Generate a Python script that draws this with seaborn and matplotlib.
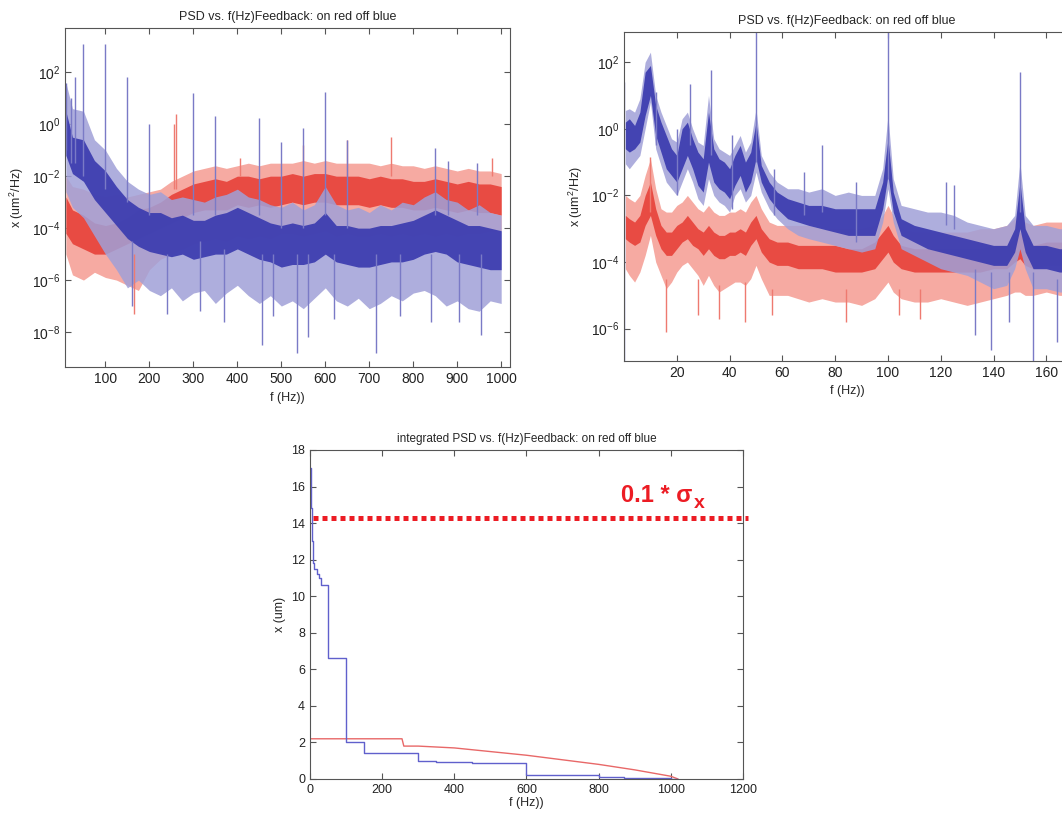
import numpy as np
import pandas as pd
import matplotlib
matplotlib.use("Agg")
import matplotlib.pyplot as plt
from matplotlib.ticker import FixedLocator, NullLocator, LogFormatterMathtext
import seaborn as sns

# ---- top left PSD (0-1000 Hz), values are log10 of um^2/Hz ----
fL = [10, 25, 50, 75, 100, 125, 150, 175, 200, 225, 250, 275, 300, 325, 350, 375, 400, 425, 450, 475,
      500, 525, 550, 575, 600, 625, 650, 675, 700, 725, 750, 775, 800, 825, 850, 875, 900, 925, 950, 975, 1000]
L_blue_hi = [1.6, 0.6, 0.5, -0.6, -1.0, -1.7, -2.2, -2.5, -2.7, -2.6, -2.9, -2.8, -2.9, -3.0, -2.8, -2.7, -2.5, -2.8, -2.9, -3.1,
             -3.2, -3.0, -3.3, -3.1, -2.4, -3.1, -3.3, -3.2, -3.4, -3.1, -3.3, -3.0, -3.1, -2.8, -2.6, -2.9, -3.0, -3.3, -3.1, -3.4, -3.5]
L_blue_chi = [0.5, -0.5, -0.6, -1.4, -1.8, -2.4, -2.9, -3.2, -3.4, -3.4, -3.6, -3.5, -3.7, -3.7, -3.5, -3.4, -3.2, -3.4, -3.6, -3.8,
              -3.9, -3.8, -3.9, -3.8, -3.4, -3.9, -3.9, -4.0, -4.0, -3.9, -3.9, -3.8, -3.7, -3.5, -3.3, -3.5, -3.7, -3.9, -3.9, -4.0, -4.1]
L_blue_clo = [-1.2, -1.9, -2.2, -2.9, -3.4, -3.9, -4.4, -4.7, -4.9, -5.0, -5.1, -5.0, -5.2, -5.1, -5.0, -5.0, -4.8, -5.0, -5.2, -5.3,
              -5.5, -5.4, -5.4, -5.3, -5.0, -5.3, -5.4, -5.5, -5.5, -5.4, -5.3, -5.3, -5.2, -5.0, -4.9, -5.0, -5.3, -5.4, -5.5, -5.6, -5.6]
L_blue_lo = [-2.6, -3.2, -3.6, -4.3, -5.0, -5.6, -6.3, -6.0, -6.4, -6.6, -6.3, -6.8, -6.5, -6.4, -6.9, -6.5, -6.2, -6.6, -6.9, -6.6,
             -7.0, -6.8, -7.1, -6.7, -6.3, -6.8, -7.0, -6.7, -7.1, -6.9, -6.6, -6.8, -6.5, -6.4, -6.6, -7.0, -6.8, -7.1, -7.2, -6.8, -6.9]
L_red_hi = [-2.0, -2.4, -2.5, -2.7, -2.8, -2.7, -2.8, -2.7, -2.6, -2.5, -2.2, -2.0, -1.8, -1.7, -1.6, -1.7, -1.6, -1.5, -1.6, -1.5,
            -1.5, -1.5, -1.4, -1.5, -1.4, -1.5, -1.5, -1.5, -1.5, -1.6, -1.5, -1.6, -1.6, -1.7, -1.6, -1.7, -1.8, -1.7, -1.8, -1.8, -1.9]
L_red_chi = [-2.8, -3.3, -3.5, -3.8, -3.9, -3.8, -3.6, -3.3, -3.2, -3.0, -2.7, -2.5, -2.3, -2.2, -2.1, -2.2, -2.0, -2.0, -2.1, -2.0,
             -2.0, -1.9, -2.0, -1.9, -1.9, -2.0, -2.0, -2.0, -2.1, -2.0, -2.1, -2.1, -2.2, -2.2, -2.1, -2.2, -2.3, -2.2, -2.3, -2.3, -2.4]
L_red_clo = [-4.2, -4.6, -4.8, -5.0, -5.0, -4.8, -4.6, -4.4, -4.2, -4.0, -3.8, -3.6, -3.4, -3.3, -3.3, -3.3, -3.1, -3.2, -3.1, -3.2,
             -3.1, -3.0, -3.1, -3.0, -3.0, -3.1, -3.1, -3.1, -3.2, -3.1, -3.2, -3.2, -3.3, -3.3, -3.2, -3.3, -3.4, -3.3, -3.4, -3.4, -3.5]
L_red_lo = [-5.0, -5.8, -6.0, -5.7, -5.9, -6.0, -6.2, -6.4, -5.6, -5.2, -5.0, -4.8, -4.6, -4.5, -4.4, -4.5, -4.3, -4.4, -4.3, -4.4,
            -4.2, -4.2, -4.3, -4.2, -4.1, -4.3, -4.2, -4.3, -4.3, -4.2, -4.3, -4.2, -4.3, -4.2, -4.3, -4.2, -4.3, -4.2, -4.2, -4.1, -4.1]
# spikes (freq, top, base)
L_blue_spk_f = [10, 22, 30, 50, 100, 150, 200, 300, 350, 450, 500, 550, 600, 650, 850, 880, 945,
                160, 315, 370, 455, 535, 560, 715, 840, 955, 240, 480, 620, 770, 905]
L_blue_spk_top = [1.6, 1.0, 1.8, 3.1, 3.1, 1.8, 0.0, 1.2, 0.3, 0.25, -0.7, -0.15, 1.25, -0.6, -0.9, -1.4, -1.5,
                  -4.5, -4.5, -4.8, -5.0, -5.0, -5.0, -5.0, -5.0, -5.0, -5.0, -5.0, -5.0, -5.0, -5.0]
L_blue_spk_base = [-1.0, -1.5, -1.5, -2.0, -2.5, -3.0, -3.5, -3.5, -3.5, -3.5, -4.0, -4.0, -3.5, -4.0, -3.5, -3.5, -3.5,
                   -7.0, -7.2, -7.6, -8.5, -8.8, -8.2, -8.8, -7.6, -8.1, -7.3, -7.4, -7.5, -7.4, -7.6]
L_red_spk_f = [255, 260, 405, 550, 650, 750, 980, 165]
L_red_spk_top = [0.0, 0.4, -1.3, -0.8, -0.6, -0.5, -1.3, -5.0]
L_red_spk_base = [-2.5, -2.5, -2.0, -2.0, -2.0, -2.0, -2.0, -7.3]

# ---- top right PSD (0-170 Hz) ----
fR = [0.5, 2, 4, 6, 8, 10, 12, 14, 16, 18, 20, 22, 24, 26, 28, 30, 32, 34, 36, 38, 40, 42, 44, 46, 48, 50, 52, 55,
      58, 62, 66, 70, 75, 80, 85, 90, 95, 98, 100, 102, 105, 110, 115, 120, 125, 130, 135, 140, 145, 148, 150, 152, 155, 160, 165, 169]
R_blue_hi = [0.55, 0.6, 0.5, 0.9, 2.0, 2.3, 1.0, 0.5, 0.1, -0.3, -0.4, 0.3, 0.5, 0.0, -0.4, -0.5, 1.0, -0.3, -0.6, -0.7, -0.8, -0.5,
             -0.2, -0.7, -0.4, 0.6, -0.8, -1.3, -1.6, -1.8, -1.8, -1.9, -1.8, -2.0, -1.9, -2.0, -2.0, -1.2, 0.4, -1.5, -2.3, -2.4,
             -2.5, -2.5, -2.6, -2.8, -2.9, -3.0, -2.9, -2.6, -1.0, -2.6, -2.9, -2.9, -3.0, -3.0]
R_blue_chi = [0.2, 0.3, 0.1, 0.5, 1.7, 1.9, 0.7, 0.2, -0.2, -0.6, -0.8, 0.0, 0.2, -0.3, -0.7, -0.9, 0.5, -0.6, -0.9, -1.0, -1.2, -0.8,
              -0.5, -1.0, -0.7, 0.2, -1.1, -1.6, -1.9, -2.1, -2.2, -2.3, -2.3, -2.4, -2.4, -2.4, -2.4, -1.6, -0.3, -1.9, -2.7, -2.9,
              -3.0, -3.1, -3.2, -3.3, -3.4, -3.5, -3.5, -3.0, -1.6, -3.0, -3.5, -3.5, -3.6, -3.6]
R_blue_clo = [-0.6, -0.7, -0.6, -0.4, 0.4, 1.0, -0.2, -0.7, -1.2, -1.4, -1.6, -1.2, -0.8, -1.2, -1.7, -1.9, -1.0, -1.6, -1.8, -1.9, -2.1,
              -1.7, -1.4, -1.9, -1.6, -0.9, -1.6, -2.1, -2.4, -2.7, -2.8, -2.9, -3.0, -3.1, -3.2, -3.2, -3.2, -2.4, -1.4, -2.5, -3.2,
              -3.4, -3.6, -3.7, -3.8, -3.9, -4.0, -4.1, -4.1, -3.7, -3.0, -3.7, -4.2, -4.2, -4.3, -4.3]
R_blue_lo = [-1.05, -1.2, -1.0, -0.8, 0.0, 0.8, -0.6, -1.1, -1.6, -1.8, -2.0, -1.6, -1.2, -1.6, -2.1, -2.3, -1.5, -2.0, -2.2, -2.3, -2.5,
             -2.0, -1.8, -2.2, -2.0, -1.3, -1.9, -2.4, -2.7, -3.0, -3.2, -3.3, -3.4, -3.5, -3.6, -3.7, -3.6, -2.8, -1.8, -2.8, -3.6,
             -3.8, -4.0, -4.2, -4.3, -4.4, -4.6, -4.8, -4.7, -4.2, -3.6, -4.2, -4.8, -4.8, -4.9, -4.9]
R_red_hi = [-2.0, -2.1, -2.2, -2.0, -1.4, -0.9, -1.8, -2.4, -2.5, -2.5, -2.3, -2.2, -2.0, -2.2, -2.4, -2.5, -2.3, -2.5, -2.6, -2.6, -2.5,
            -2.5, -2.4, -2.5, -2.2, -2.0, -2.4, -2.8, -2.9, -2.9, -2.9, -2.9, -3.0, -3.0, -3.0, -3.0, -2.9, -2.6, -2.3, -2.6, -3.0,
            -3.1, -3.1, -3.1, -3.1, -3.1, -3.0, -3.0, -2.9, -2.7, -2.5, -2.8, -2.9, -2.8, -2.8, -2.8]
R_red_chi = [-2.6, -2.7, -2.8, -2.6, -2.0, -1.6, -2.4, -2.9, -3.1, -3.1, -2.9, -2.8, -2.6, -2.8, -3.0, -3.1, -2.9, -3.1, -3.2, -3.2, -3.1,
             -3.1, -3.0, -3.1, -2.8, -2.6, -3.0, -3.3, -3.4, -3.4, -3.5, -3.5, -3.5, -3.5, -3.6, -3.6, -3.4, -3.1, -2.9, -3.2, -3.5,
             -3.6, -3.6, -3.6, -3.6, -3.6, -3.6, -3.5, -3.5, -3.3, -3.1, -3.3, -3.5, -3.4, -3.4, -3.4]
R_red_clo = [-3.3, -3.4, -3.5, -3.4, -2.9, -2.6, -3.2, -3.6, -3.8, -3.8, -3.6, -3.4, -3.3, -3.5, -3.6, -3.8, -3.6, -3.8, -3.9, -3.9, -3.8,
             -3.8, -3.7, -3.8, -3.5, -3.3, -3.7, -4.0, -4.1, -4.1, -4.2, -4.2, -4.2, -4.3, -4.3, -4.3, -4.2, -3.9, -3.7, -4.0, -4.2,
             -4.3, -4.3, -4.3, -4.3, -4.3, -4.3, -4.2, -4.2, -4.0, -3.9, -4.1, -4.2, -4.1, -4.1, -4.1]
R_red_lo = [-4.2, -4.4, -4.6, -4.3, -3.8, -3.2, -4.0, -4.4, -4.8, -4.6, -4.3, -4.1, -4.0, -4.2, -4.4, -4.7, -4.4, -4.7, -4.9, -4.8, -4.7,
            -4.6, -4.6, -4.7, -4.5, -4.1, -4.5, -5.0, -5.0, -5.0, -5.1, -5.2, -5.1, -5.2, -5.2, -5.3, -5.1, -4.8, -4.6, -4.9, -5.1,
            -5.2, -5.2, -5.1, -5.2, -5.3, -5.2, -5.1, -5.0, -4.9, -4.9, -5.0, -5.0, -4.9, -5.0, -5.0]
R_blue_spk_f = [0.1, 25, 33, 50, 75, 68, 100, 122, 125, 150, 133, 139, 146, 155, 164, 12, 20, 41, 57, 88]
R_blue_spk_top = [1.4, 1.35, 1.75, 3.0, -0.5, -1.3, 3.0, -1.6, -1.7, 1.7, -4.2, -4.3, -4.3, -4.3, -4.5,
                  1.1, 0.0, -0.2, -1.2, -1.6]
R_blue_spk_base = [-7.0, -0.5, -0.8, -1.0, -2.5, -2.6, -1.5, -2.9, -3.0, -2.5, -6.2, -6.65, -5.8, -7.0, -6.4,
                   -0.5, -2.0, -2.4, -2.6, -3.4]
R_red_spk_f = [16, 36, 46, 56, 104, 10, 28, 84, 112]
R_red_spk_top = [-4.5, -4.7, -4.6, -4.8, -4.8, -0.85, -4.5, -4.8, -4.8]
R_red_spk_base = [-6.1, -5.7, -5.8, -5.6, -5.6, -2.5, -5.6, -5.8, -5.7]

# ---- bottom: integrated PSD (um) ----
blue_int_f = [0, 2, 4, 6, 8, 10, 20, 25, 30, 50, 100, 150, 300, 350, 450, 600, 800, 870, 1000, 1020]
blue_int_v = [17.0, 16.2, 14.8, 13.0, 11.8, 11.5, 11.2, 11.0, 10.6, 6.6, 2.0, 1.4, 1.0, 0.95, 0.9, 0.2, 0.12, 0.05, 0.0, 0.0]
red_int_f = [0, 255, 260, 300, 400, 500, 600, 700, 800, 900, 1000, 1020]
red_int_v = [2.2, 2.2, 1.8, 1.8, 1.7, 1.5, 1.3, 1.05, 0.8, 0.5, 0.15, 0.0]
sigma_level = 14.3

sns.set_style("ticks")
plt.rcParams["font.family"] = ["Liberation Sans", "DejaVu Sans"]
plt.rcParams["mathtext.fontset"] = "custom"
plt.rcParams["mathtext.rm"] = "Liberation Sans"
plt.rcParams["mathtext.it"] = "Liberation Sans:italic"
plt.rcParams["mathtext.bf"] = "Liberation Sans:bold"

RED_L, RED_D = "#f6aaa2", "#e8463e"
BLUE_L, BLUE_D = "#a0a0d8", "#3e3eb0"


def matlab_box(ax, size):
    for s in ax.spines.values():
        s.set_color("#555555")
        s.set_linewidth(0.8)
    ax.tick_params(direction="in", top=True, right=True, length=4, labelsize=size,
                   color="#555555", labelcolor="#222222")


def psd_panel(ax, f, series, spikes):
    for hi, chi, clo, lo, light, dark, a in series:
        ax.fill_between(f, 10 ** np.array(lo), 10 ** np.array(hi), color=light, alpha=a, lw=0)
        ax.fill_between(f, 10 ** np.array(clo), 10 ** np.array(chi), color=dark, alpha=0.95, lw=0)
    for sf, st, sb, c in spikes:
        ax.vlines(sf, 10 ** np.array(sb), 10 ** np.array(st), color=c, lw=1.0)
    ax.set_yscale("log")
    ax.set_xlabel("f (Hz))", fontsize=9)
    ax.set_ylabel("x (um$^2$/Hz)", fontsize=9)
    ax.set_title("PSD vs. f(Hz)Feedback: on red off blue", fontsize=9)


fig = plt.figure(figsize=(10.62, 8.14), dpi=100)

# top left
ax1 = fig.add_axes([0.0612, 0.549, 0.419, 0.4165])
psd_panel(ax1, fL,
          [(L_red_hi, L_red_chi, L_red_clo, L_red_lo, RED_L, RED_D, 1.0),
           (L_blue_hi, L_blue_chi, L_blue_clo, L_blue_lo, BLUE_L, BLUE_D, 0.85)],
          [(L_red_spk_f, L_red_spk_top, L_red_spk_base, "#ee7a70"),
           (L_blue_spk_f, L_blue_spk_top, L_blue_spk_base, "#7a7ac6")])
ax1.set_xlim(8, 1020)
ax1.set_ylim(10 ** -9.35, 10 ** 3.7)
ax1.set_xticks(range(100, 1001, 100))
ax1.yaxis.set_major_locator(FixedLocator([1e2, 1e0, 1e-2, 1e-4, 1e-6, 1e-8]))
ax1.yaxis.set_major_formatter(LogFormatterMathtext())
ax1.yaxis.set_minor_locator(NullLocator())
matlab_box(ax1, 10)

# top right (runs past the figure edge as in the source)
ax2 = fig.add_axes([0.5876, 0.5565, 0.42, 0.404])
psd_panel(ax2, fR,
          [(R_red_hi, R_red_chi, R_red_clo, R_red_lo, RED_L, RED_D, 1.0),
           (R_blue_hi, R_blue_chi, R_blue_clo, R_blue_lo, BLUE_L, BLUE_D, 0.85)],
          [(R_red_spk_f, R_red_spk_top, R_red_spk_base, "#ee7a70"),
           (R_blue_spk_f, R_blue_spk_top, R_blue_spk_base, "#7a7ac6")])
ax2.set_xlim(0, 169)
ax2.set_ylim(10 ** -6.97, 10 ** 2.9)
ax2.set_xticks(range(20, 161, 20))
ax2.yaxis.set_major_locator(FixedLocator([1e2, 1e0, 1e-2, 1e-4, 1e-6]))
ax2.yaxis.set_major_formatter(LogFormatterMathtext())
ax2.yaxis.set_minor_locator(NullLocator())
matlab_box(ax2, 10)

# bottom: integrated PSD
ax3 = fig.add_axes([0.2919, 0.043, 0.4077, 0.4042])
intg = pd.concat([
    pd.DataFrame({"f": red_int_f, "x": red_int_v, "fb": "on"}),
    pd.DataFrame({"f": blue_int_f, "x": blue_int_v, "fb": "off"}),
])
sns.lineplot(data=intg[intg.fb == "on"], x="f", y="x", ax=ax3, color="#e86868", lw=1.0)
sns.lineplot(data=intg[intg.fb == "off"], x="f", y="x", ax=ax3, color="#6060cc", lw=1.0,
             drawstyle="steps-post")
ax3.plot([8, 1214], [sigma_level, sigma_level], color="#ec1c24", lw=3.6,
         linestyle=(0, (1.0, 0.8)), clip_on=False)
ax3.text(1061, 15.15, "0.1 * σ", color="#ec1c24", fontsize=17, fontweight="bold",
         ha="right", va="baseline")
ax3.text(1064, 14.8, "x", color="#ec1c24", fontsize=14, fontweight="bold",
         ha="left", va="baseline")
ax3.set_xlim(0, 1200)
ax3.set_ylim(0, 18)
ax3.set_xticks(range(0, 1201, 200))
ax3.set_yticks(range(0, 19, 2))
ax3.set_xlabel("f (Hz))", fontsize=9, labelpad=1)
ax3.set_ylabel("x (um)", fontsize=9)
ax3.set_title("integrated PSD vs. f(Hz)Feedback: on red off blue", fontsize=8.5)
matlab_box(ax3, 9)

fig.savefig("out.png", dpi=100)
